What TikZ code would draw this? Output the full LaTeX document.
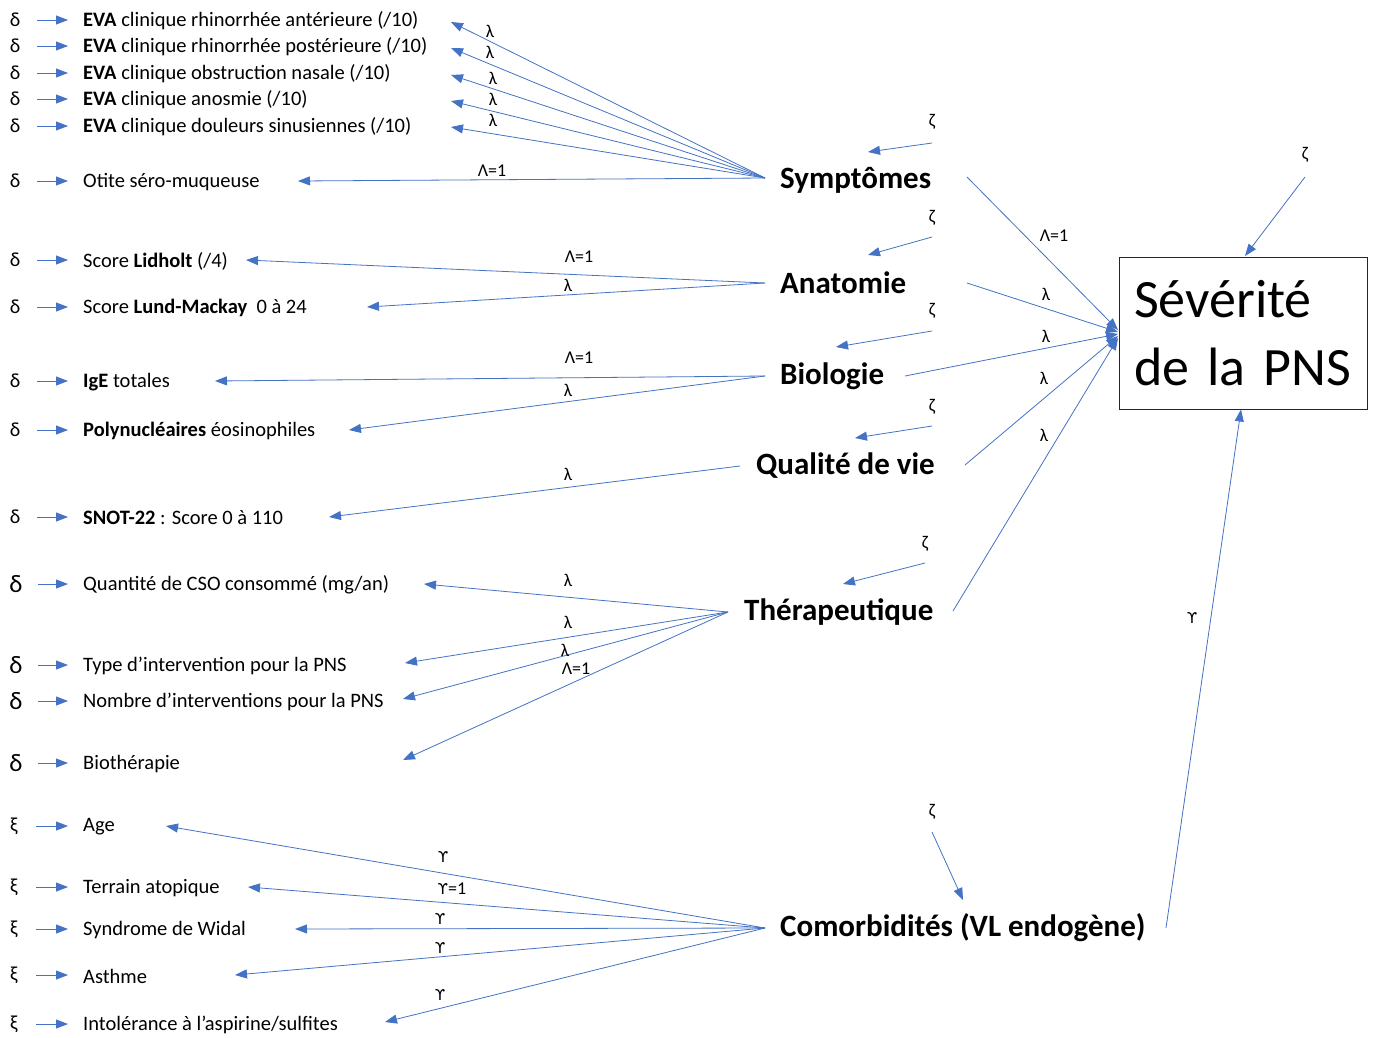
\documentclass[tikz,border=0pt]{standalone}
\usepackage{fontspec}
\setmainfont{Carlito}
\newfontfamily\dv{DejaVu Sans}
\usetikzlibrary{arrows.meta}
\definecolor{ablue}{HTML}{4472C4}
\newcommand{\ups}{{\dv\fontsize{15}{17}\selectfont ϒ}}
\begin{document}
\begin{tikzpicture}[x=1pt,y=-1pt,
 conn/.style={draw=ablue, line width=0.8pt, -{Triangle[length=12pt,width=9pt]}},
 item/.style={anchor=west, font=\fontsize{20.5}{22}\selectfont, inner sep=0pt},
 greek/.style={font=\fontsize{20}{22}\selectfont, inner sep=0pt},
 biggreek/.style={font=\fontsize{25}{27}\selectfont, inner sep=0pt},
 lab/.style={font=\fontsize{18}{20}\selectfont, inner sep=0pt},
 latent/.style={font=\fontsize{31}{34}\selectfont\bfseries, inner sep=0pt, anchor=west},
]
\useasboundingbox[fill=white] (0,0) rectangle (1376,1037);

% ---------- left items ----------
\node[item] (i1) at (83,21) {\textbf{EVA} clinique rhinorrhée antérieure (/10)};
\node[item] (i2) at (83,47) {\textbf{EVA} clinique rhinorrhée postérieure (/10)};
\node[item] (i3) at (83,74) {\textbf{EVA} clinique obstruction nasale (/10)};
\node[item] (i4) at (83,100) {\textbf{EVA} clinique anosmie (/10)};
\node[item] (i5) at (83,127) {\textbf{EVA} clinique douleurs sinusiennes (/10)};
\node[item] (i6) at (83,182) {Otite séro-muqueuse};
\node[item] (i7) at (83,261) {Score \textbf{Lidholt} (/4)};
\node[item] (i8) at (83,308) {Score \textbf{Lund-Mackay}\ \ 0 à 24};
\node[item] (i9) at (83,382) {\textbf{IgE} totales};
\node[item] (i10) at (83,431) {\textbf{Polynucléaires} éosinophiles};
\node[item] (i11) at (83,518) {\textbf{SNOT-22} : Score 0 à 110};
\node[item] (i12) at (83,585) {Quantité de CSO consommé (mg/an)};
\node[item] (i13) at (83,666) {Type d’intervention pour la PNS};
\node[item] (i14) at (83,702) {Nombre d’interventions pour la PNS};
\node[item] (i15) at (83,764) {Biothérapie};
\node[item] (i16) at (83,827) {Age};
\node[item] (i17) at (83,888) {Terrain atopique};
\node[item] (i18) at (83,930) {Syndrome de Widal};
\node[item] (i19) at (83,976) {Asthme};
\node[item] (i20) at (83,1025) {Intolérance à l’aspirine/sulfites};

% ---------- error terms ----------
\foreach \n/\y in {1/20,2/46,3/73,4/99,5/126,6/181,7/260,8/307,9/381,10/430,11/517}{
  \node[greek] (e\n) at (15,\y) {δ};
}
\foreach \n/\y in {12/584,13/665,14/701,15/763}{
  \node[biggreek] (e\n) at (16,\y) {δ};
}
\foreach \n/\y in {16/826,17/887,18/929,19/975,20/1024}{
  \node[greek] (e\n) at (14,\y) {ξ};
}
\foreach \n in {1,...,20}{
  \draw[conn] ([xshift=22pt]e\n.center) -- ([xshift=-15pt]i\n.west |- e\n.center);
}

% ---------- latent variables ----------
\node[latent] (sym) at (780,180) {Symptômes};
\node[latent] (ana) at (780,283) {Anatomie};
\node[latent] (bio) at (780,376) {Biologie};
\node[latent] (qdv) at (756,466) {Qualité de vie};
\node[latent] (the) at (744,612) {Thérapeutique};
\node[latent] (com) at (780,928) {Comorbidités (VL endogène)};

\coordinate (symL) at (765,178);
\coordinate (anaL) at (765,283);
\coordinate (bioL) at (765,376);
\coordinate (qdvL) at (740,466);
\coordinate (theL) at (728,612);
\coordinate (comL) at (765,928);

% tips on items
\coordinate (t1) at (451,22);
\coordinate (t2) at (451,48);
\coordinate (t3) at (451,75);
\coordinate (t4) at (451,101);
\coordinate (t5) at (451,127);
\coordinate (t6) at (298,181);
\coordinate (t7) at (246,260);
\coordinate (t8) at (367,307);
\coordinate (t9) at (215,381);
\coordinate (t10) at (349,430);
\coordinate (t11) at (329,517);
\coordinate (t12) at (424,584);
\coordinate (t13) at (405,663);
\coordinate (t14) at (403,699);
\coordinate (t15) at (403,760);
\coordinate (t16) at (166,826);
\coordinate (t17) at (248,887);
\coordinate (t18) at (295,929);
\coordinate (t19) at (235,975);
\coordinate (t20) at (385,1022);

\foreach \n in {1,...,6}{\draw[conn] (symL) -- (t\n);}
\foreach \n in {7,8}{\draw[conn] (anaL) -- (t\n);}
\foreach \n in {9,10}{\draw[conn] (bioL) -- (t\n);}
\draw[conn] (qdvL) -- (t11);
\foreach \n in {12,...,15}{\draw[conn] (theL) -- (t\n);}
\foreach \n in {16,...,20}{\draw[conn] (comL) -- (t\n);}

% loading labels
\node[lab] at (490,31) {λ};
\node[lab] at (490,52) {λ};
\node[lab] at (493,78) {λ};
\node[lab] at (493,99) {λ};
\node[lab] at (493,120) {λ};
\node[lab] at (492,171) {Λ=1};
\node[lab] at (579,257) {Λ=1};
\node[lab] at (568,285) {λ};
\node[lab] at (579,358) {Λ=1};
\node[lab] at (568,390) {λ};
\node[lab] at (568,474) {λ};
\node[lab] at (568,580) {λ};
\node[lab] at (568,622) {λ};
\node[lab] at (565,650) {λ};
\node[lab] at (576,669) {Λ=1};
\node[lab] at (443,857) {\ups};
\node[lab] at (452,889) {\ups=1};
\node[lab] at (440,919) {\ups};
\node[lab] at (440,948) {\ups};
\node[lab] at (440,995) {\ups};

% ---------- disturbances ----------
\node[lab] (z1) at (932,122) {ζ};
\node[lab] (z2) at (932,218) {ζ};
\node[lab] (z3) at (932,311) {ζ};
\node[lab] (z4) at (932,407) {ζ};
\node[lab] (z5) at (925,544) {ζ};
\node[lab] (z6) at (932,812) {ζ};
\node[lab] (z7) at (1305,155) {ζ};
\coordinate (z1s) at (932,143);
\coordinate (z2s) at (932,237);
\coordinate (z3s) at (932,331);
\coordinate (z4s) at (932,426);
\coordinate (z5s) at (925,563);
\coordinate (z6s) at (932,832);
\coordinate (z7s) at (1305,177);
\coordinate (z1t) at (868,152);
\coordinate (z2t) at (868,255);
\coordinate (z3t) at (836,347);
\coordinate (z4t) at (855,438);
\coordinate (z5t) at (843,584);
\coordinate (z6t) at (963,900);
\coordinate (z7t) at (1245,256);
\foreach \n in {1,...,7}{\draw[conn] (z\n s) -- (z\n t);}

% ---------- outcome ----------
\node[draw=black!85, line width=1pt, minimum width=248pt, minimum height=152pt,
      text width=218pt, inner xsep=15pt, align=left,
      font=\fontsize{54}{68}\selectfont] (sev) at (1243,333) {Sévérité\\de la PNS};

\coordinate (symR) at (967,177);
\coordinate (anaR) at (967,283);
\coordinate (bioR) at (905,376);
\coordinate (qdvR) at (965,465);
\coordinate (theR) at (953,611);
\coordinate (comR) at (1166,928);
\coordinate (v1) at (1118,330);
\coordinate (v2) at (1118,332);
\coordinate (v3) at (1118,334);
\coordinate (v4) at (1118,336);
\coordinate (v5) at (1118,338);
\draw[conn] (symR) -- (v1);
\draw[conn] (anaR) -- (v2);
\draw[conn] (bioR) -- (v3);
\draw[conn] (qdvR) -- (v4);
\draw[conn] (theR) -- (v5);
\draw[conn] (comR) -- (sev.south -| 1241,0);

\node[lab] at (1054,236) {Λ=1};
\node[lab] at (1046,294) {λ};
\node[lab] at (1046,336) {λ};
\node[lab] at (1044,378) {λ};
\node[lab] at (1044,435) {λ};
\node[lab] at (1192,618) {\ups};
\end{tikzpicture}
\end{document}
